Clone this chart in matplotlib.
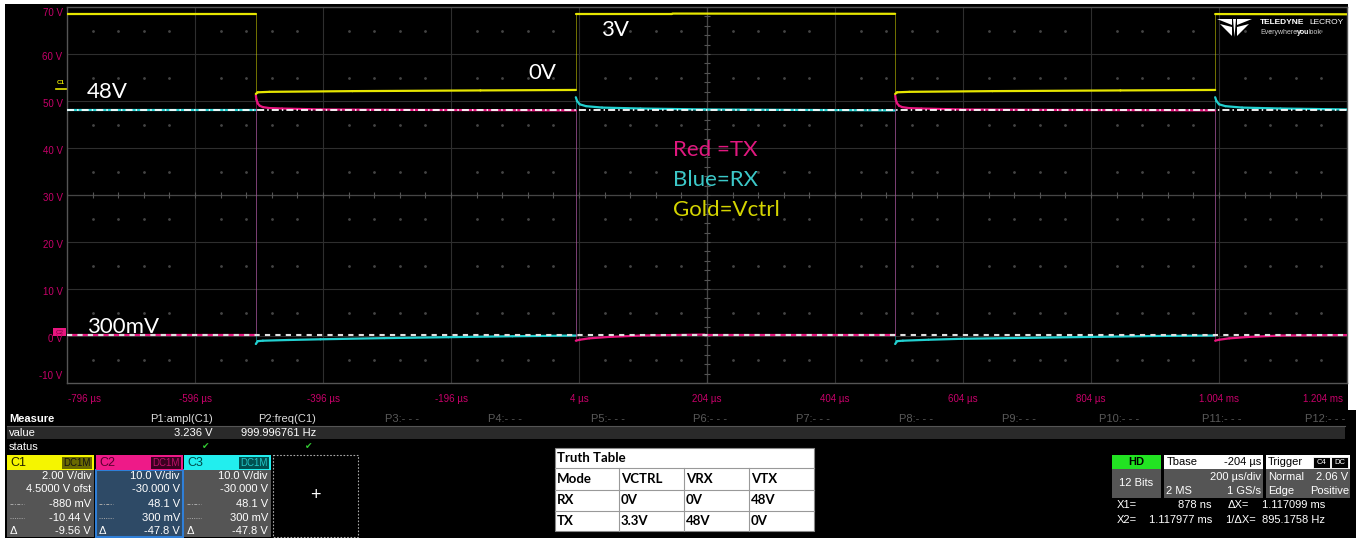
import numpy as np
import matplotlib.pyplot as plt
from matplotlib.collections import LineCollection
from matplotlib.colors import to_rgba
from matplotlib.patches import Rectangle, Polygon

W, H = 1356, 538

# captured traces: (time in us, volts on that channel)
vctrl_pts = [(-796, 3.19), (-501, 3.19), (-501, -0.20), (-498, -0.13), (-480, -0.11),
             (-350, -0.08), (-150, -0.05), (-1, -0.03), (-1, 3.22), (150, 3.22),
             (498, 3.21), (498, -0.20), (501, -0.13), (520, -0.11), (650, -0.08),
             (850, -0.05), (998, -0.03), (998, 3.20), (1204, 3.19)]

tx_pts = [(-796, 0.3), (-501, 0.3), (-501, 51.2), (-500, 50.3), (-498, 49.5), (-495, 49.0),
          (-490, 48.7), (-480, 48.5), (-460, 48.4), (-400, 48.2), (-250, 48.1), (-1, 48.0),
          (-1, -1.0), (5, -0.8), (20, -0.5), (50, -0.2), (100, 0.1), (200, 0.3), (498, 0.3),
          (498, 51.2), (499, 50.3), (501, 49.5), (504, 49.0), (509, 48.7), (519, 48.5),
          (539, 48.4), (600, 48.2), (750, 48.1), (998, 48.0), (998, -1.0), (1004, -0.8),
          (1020, -0.5), (1050, -0.2), (1100, 0.1), (1204, 0.2)]

rx_pts = [(-796, 48.0), (-501, 48.0), (-501, -1.7), (-498, -1.1), (-490, -1.0), (-450, -0.85),
          (-400, -0.7), (-300, -0.45), (-200, -0.25), (-100, -0.05), (-1, 0.1), (-1, 50.8),
          (1, 50.0), (5, 49.3), (15, 48.9), (40, 48.6), (100, 48.4), (200, 48.2), (350, 48.1),
          (498, 48.0), (498, -1.7), (501, -1.1), (510, -1.0), (550, -0.8), (600, -0.6),
          (700, -0.4), (800, -0.2), (900, 0.0), (998, 0.1), (998, 50.8), (1000, 50.0),
          (1004, 49.3), (1014, 48.9), (1040, 48.6), (1100, 48.4), (1204, 48.2)]

# channel vertical settings
c1_vdiv, c1_ofst = 2.0, 4.5
c23_vdiv, c23_ofst = 10.0, -30.0

# horizontal cursors on C2/C3
cursor_hi = 48.1
cursor_lo = 0.3

x_ticks = [-796, -596, -396, -196, 4, 204, 404, 604, 804, 1004, 1204]
x_labels = ['-796 µs', '-596 µs', '-396 µs', '-196 µs', '4 µs', '204 µs', '404 µs',
            '604 µs', '804 µs', '1.004 ms', '1.204 ms']
y_ticks = [70, 60, 50, 40, 30, 20, 10, 0, -10]

meas_names = ['P1:ampl(C1)', 'P2:freq(C1)'] + ['P%d:- - -' % k for k in range(3, 13)]
meas_values = ['3.236 V', '999.996761 Hz']

c1_info = ['2.00 V/div', '4.5000 V ofst', '-880 mV', '-10.44 V', '-9.56 V']
c2_info = ['10.0 V/div', '-30.000 V', '48.1 V', '300 mV', '-47.8 V']
c3_info = ['10.0 V/div', '-30.000 V', '48.1 V', '300 mV', '-47.8 V']

truth_header = ['Mode', 'VCTRL', 'VRX', 'VTX']
truth_rows = [['RX', '0V', '0V', '48V'],
              ['TX', '3.3V', '48V', '0V']]

YEL = '#e6e600'
PNK = '#e8167f'
CYN = '#22d0d0'
AXC = '#c8006a'
UI = 'Liberation Sans'


def c1_to_screen(v):
    # place C1 volts on the C2/C3 volt grid
    return (v + c1_ofst) / c1_vdiv * c23_vdiv - c23_ofst


def draw_trace(ax, pts, color, conv=None):
    t = np.array([p[0] for p in pts], float)
    v = np.array([p[1] for p in pts], float)
    if conv is not None:
        v = conv(v)
    segs = np.stack([np.column_stack([t[:-1], v[:-1]]),
                     np.column_stack([t[1:], v[1:]])], axis=1)
    edge = np.diff(t) == 0
    cols = [to_rgba(color, 0.5 if e else 1.0) for e in edge]
    lws = np.where(edge, 0.7, 1.6)
    lc = LineCollection(segs, colors=cols, linewidths=lws, capstyle='round', zorder=3)
    ax.add_collection(lc)


fig = plt.figure(figsize=(W / 100, H / 100), dpi=100, facecolor='black')

# pixel-space layer for the readout panels
ov = fig.add_axes([0, 0, 1, 1])
ov.set_xlim(0, W)
ov.set_ylim(H, 0)
ov.axis('off')
ov.set_facecolor('black')
P = ov.transData


def ptext(x, y, s, ha='left', size=8, color='white', weight='normal', family=UI, **kw):
    ov.text(x, y, s, ha=ha, va='center', fontsize=size, color=color,
            fontweight=weight, family=family, **kw)


# screen border of the capture
ov.add_patch(Rectangle((0, 0), 5, H, fc='white', ec='none'))
ov.add_patch(Rectangle((0, 0), W, 4, fc='white', ec='none'))
ov.add_patch(Rectangle((1348, 0), 8, 410, fc='white', ec='none'))

# scope grid
ax = fig.add_axes([67 / W, (H - 383) / H, 1280 / W, 376 / H])
ax.set_facecolor('black')
ax.set_xlim(-796, 1204)
ax.set_ylim(-10, 70)
ax.set_xticks([])
ax.set_yticks([])
for s in ax.spines.values():
    s.set_color('#555555')
    s.set_linewidth(1.0)

for xg in x_ticks[1:-1]:
    ax.axvline(xg, color='#2e2e2e', lw=0.8, zorder=1)
for yg in y_ticks[1:-1]:
    ax.axhline(yg, color='#2e2e2e', lw=0.8, zorder=1)
ax.axvline(204, color='#454545', lw=0.9, zorder=1)
ax.axhline(30, color='#454545', lw=0.9, zorder=1)
xm = np.arange(-796, 1204.1, 40)
ym = np.arange(-10, 70.1, 2)
ax.vlines(xm, 30 - 0.6, 30 + 0.6, color='#555555', lw=0.8, zorder=1)
ax.hlines(ym, 204 - 5, 204 + 5, color='#555555', lw=0.8, zorder=1)
dot_x = [x for x in xm if (x + 796) % 200 != 0]
for yd in range(-5, 70, 10):
    ax.plot(dot_x, [yd] * len(dot_x), 'o', ms=1.0, color='#444444', ls='none', zorder=1)

draw_trace(ax, rx_pts, CYN)
draw_trace(ax, tx_pts, PNK)
draw_trace(ax, vctrl_pts, YEL, c1_to_screen)

ax.axhline(cursor_hi, color='white', lw=1.3, ls=(0, (3.9, 1.7, 0.8, 1.7)), zorder=4)
ax.axhline(cursor_lo, color='#e0e0e0', lw=1.5, ls=(0, (2.5, 2.5)), zorder=4)

# axis labels
for v in y_ticks:
    va = 'top' if v == 70 else ('bottom' if v == -10 else 'center')
    yy = v + (-0.2 if v == 70 else 0.5 if v == -10 else -0.6)
    ax.text(-0.0035, yy, '%d V' % v, transform=ax.get_yaxis_transform(), ha='right', va=va,
            fontsize=7, color=AXC, family=UI)
for i, (xt, lab) in enumerate(zip(x_ticks, x_labels)):
    ha = 'left' if i == 0 else ('right' if i == len(x_ticks) - 1 else 'center')
    xx = xt + (2 if i == 0 else -6 if i == len(x_ticks) - 1 else 0)
    ax.text(xx, -0.028, lab, transform=ax.get_xaxis_transform(), ha=ha, va='top',
            fontsize=7, color=AXC, family=UI)

# channel ground markers
ov.text(61, 83, 'C1', ha='center', va='center', fontsize=4.5, color=YEL, family=UI,
        fontweight='bold')
ov.plot([56, 67], [89, 89], color=YEL, lw=1.2)
ov.add_patch(Rectangle((53, 328), 13, 8, fc=PNK, ec='none'))
ov.text(59.5, 332, 'C2', ha='center', va='center', fontsize=4.5, color='#70003a', family=UI)

# annotations
ann = dict(fontsize=16, family='Lato', va='center', ha='left', zorder=6)
ax.text(87, 92, '48V', color='white', transform=P, **ann)
ax.text(87, 327, '300mV', color='white', transform=P, **ann)
ax.text(528, 73, '0V', color='white', transform=P, **ann)
ax.text(601, 30, '3V', color='white', transform=P, **ann)
ax.text(673, 150, 'Red =TX', color='#e0187f', transform=P, **ann)
ax.text(673, 180, 'Blue=RX', color='#3cc8c8', transform=P, **ann)
ax.text(673, 210, 'Gold=Vctrl', color='#d4d400', transform=P, **ann)

# logo
cx = 1234.5
wing_l = [[(1217, 19), (1232, 19), (1232, 25)],
          [(1220, 24), (1232, 27), (1232, 36)]]
for poly in wing_l:
    ax.add_patch(Polygon(poly, closed=True, fc='white', ec='none', transform=P, zorder=6))
    ax.add_patch(Polygon([(2 * cx - x, y) for x, y in poly], closed=True, fc='white',
                         ec='none', transform=P, zorder=6))
ax.add_patch(Polygon([(1233, 19), (1236, 19), (cx, 37)], closed=True, fc='white', ec='none',
                     transform=P, zorder=6))
logo = dict(transform=P, family=UI, va='center', ha='left', zorder=6)
ax.text(1260, 23, 'TELEDYNE', fontsize=6, fontweight='bold', color='white', **logo)
ax.text(1309, 23, 'LECROY', fontsize=6, color='white', **logo)
ax.text(1260, 33, 'Everywhere', fontsize=5, color='#cccccc', **logo)
ax.text(1296.5, 33, 'you', fontsize=5, color='white', fontweight='bold', **logo)
ax.text(1308.5, 33, 'look', fontsize=5, color='#cccccc', **logo)

# measurement table
ptext(9, 419, 'Measure', weight='bold')
for k, name in enumerate(meas_names):
    ptext(213 + 102.9 * k, 419, name, ha='right', color='#dddddd' if k < 2 else '#5a5a5a')
ov.add_patch(Rectangle((7, 426), 1338, 13, fc='#2a2a2a', ec='none'))
ov.plot([7, 1345], [426, 426], color='#555555', lw=0.8)
ptext(9, 432.5, 'value')
for k, val in enumerate(meas_values):
    ptext(213 + 102.9 * k, 432.5, val, ha='right')
ptext(9, 447, 'status')
for k in range(len(meas_values)):
    ptext(206 + 102.9 * k, 447, '\u2714', ha='center', size=6.5, color='#33cc33',
          family='DejaVu Sans')


def chan_box(x0, name, color, name_color, dc_bg, dc_fg, body, info, border=None):
    w = 87
    ov.add_patch(Rectangle((x0, 470), w, 67, fc=body, ec=border or 'none',
                           lw=1.5 if border else 0))
    ov.add_patch(Rectangle((x0, 455), w, 15, fc=color, ec='none'))
    ptext(x0 + 3, 462.5, name, size=9, color=name_color)
    ov.add_patch(Rectangle((x0 + 55, 456.5), 30, 12, fc=dc_bg, ec='none'))
    ptext(x0 + 70, 462.5, 'DC1M', ha='center', size=7, color=dc_fg)
    rows = [476, 489, 504, 518, 531]
    for y, s in zip(rows, info):
        ptext(x0 + 84, y, s, ha='right', size=8)
    ov.plot([x0 + 3, x0 + 17], [504, 504], color='#aaaaaa', lw=0.7, ls=(0, (3, 1.5, 1, 1.5)))
    ov.plot([x0 + 3, x0 + 17], [518, 518], color='#aaaaaa', lw=0.7, ls=(0, (1, 1.3)))
    ptext(x0 + 3, 531, '\u0394', size=8)


chan_box(7, 'C1', '#f5f500', '#222200', '#6a6a00', '#111111', '#555555', c1_info)
chan_box(96, 'C2', '#ee1a88', '#5a0030', '#3a0020', '#c0106a', '#2e4a66', c2_info,
         border='#2f7fd8')
chan_box(184, 'C3', '#22eeee', '#004a4a', '#005050', '#22c8c8', '#555555', c3_info)
ov.add_patch(Rectangle((273, 455), 85, 82, fc='black', ec='#aaaaaa', lw=0.8, ls=(0, (1.5, 1.5))))
ptext(315.5, 496, '+', ha='center', size=13)

# truth table
tx0, tx1 = 555, 814
ov.add_patch(Rectangle((tx0, 448), tx1 - tx0, 83, fc='white', ec='#888888', lw=0.8))
col_x = [555, 619, 684, 749]
row_y = [468, 490, 511, 531]
for y in row_y[:-1]:
    ov.plot([tx0, tx1], [y, y], color='#999999', lw=0.8)
for x in col_x[1:]:
    ov.plot([x, x], [468, 531], color='#999999', lw=0.8)
tfont = dict(size=9.5, color='black', weight='bold', family='Lato')
ptext(557, 458, 'Truth Table', **tfont)
for r, cells in enumerate([truth_header] + truth_rows):
    yc = (row_y[r] + row_y[r + 1]) / 2
    for x, s in zip(col_x, cells):
        ptext(x + 2, yc, s, **tfont)

# acquisition panels
ov.add_patch(Rectangle((1112, 455), 49, 14, fc='#22e322', ec='none'))
ptext(1136.5, 462, 'HD', ha='center', weight='bold', color='black')
ov.add_patch(Rectangle((1112, 469), 49, 29, fc='#555555', ec='none'))
ptext(1136.5, 483, '12 Bits', ha='center')

ov.add_patch(Rectangle((1164, 455), 99, 14, fc='white', ec='none'))
ptext(1167, 462, 'Tbase', color='black')
ptext(1261, 462, '-204 µs', ha='right', color='black')
ov.add_patch(Rectangle((1164, 469), 99, 29, fc='#555555', ec='none'))
ptext(1261, 477, '200 µs/div', ha='right')
ptext(1166, 491, '2 MS')
ptext(1261, 491, '1 GS/s', ha='right')

ov.add_patch(Rectangle((1266, 455), 84, 14, fc='white', ec='none'))
ptext(1268, 462, 'Trigger', color='black')
for bx, s in [(1313, 'C4'), (1331, 'DC')]:
    ov.add_patch(Rectangle((bx, 456.5), 17, 11, fc='black', ec='white', lw=0.6))
    ptext(bx + 8.5, 462, s, ha='center', size=5.5)
ov.add_patch(Rectangle((1266, 469), 84, 29, fc='#555555', ec='none'))
ptext(1268, 477, 'Normal')
ptext(1348, 477, '2.06 V', ha='right')
ptext(1268, 491, 'Edge')
ptext(1349, 491, 'Positive', ha='right')

ptext(1117, 505, 'X1=')
ptext(1212, 505, '878 ns', ha='right')
ptext(1228, 505, '\u0394X=')
ptext(1262, 505, '1.117099 ms')
ptext(1117, 520, 'X2=')
ptext(1212, 520, '1.117977 ms', ha='right')
ptext(1225, 520, '1/\u0394X=')
ptext(1262, 520, '895.1758 Hz')

fig.savefig('out.png', dpi=100, facecolor='black')
